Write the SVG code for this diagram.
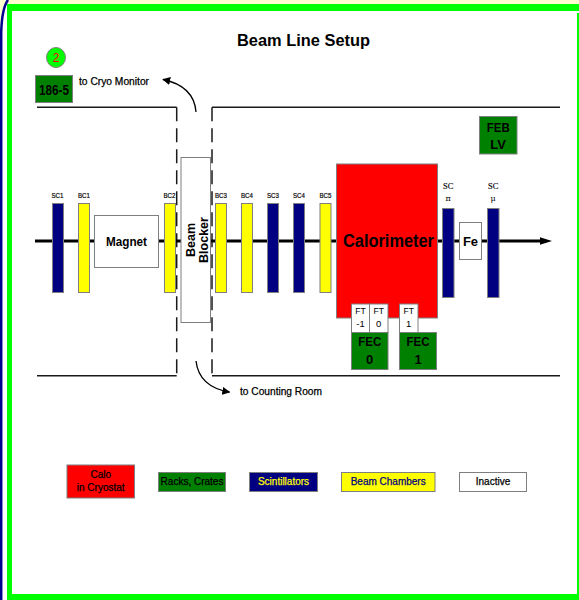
<svg xmlns="http://www.w3.org/2000/svg" width="579" height="600" viewBox="0 0 579 600">
<style>
text{font-family:"Liberation Sans",Arial,sans-serif;fill:#000;text-anchor:middle}
.b{font-weight:bold}
.lbl{font-size:7.5px;stroke:#000;stroke-width:0.2}
.ser{font-family:"Liberation Serif","Times New Roman",serif;font-size:8.5px;stroke:#000;stroke-width:0.15}
.gk{font-family:"DejaVu Serif","Liberation Serif",serif;font-size:8px}
.leg{font-size:10px;stroke-width:0.25}
.box{stroke:#7f7f7f;stroke-width:1}
.red{fill:#ff0000}.grn{fill:#008000}.navy{fill:#000080}.yel{fill:#ffff00}.wht{fill:#ffffff}
.wall{stroke:#1a1a1a;stroke-width:1.5;fill:none}
.dash{stroke:#1a1a1a;stroke-width:1.5;stroke-dasharray:14 7;fill:none}
.conn{stroke:#000;stroke-width:1.3;fill:none}
</style>
<defs>
<marker id="ah" viewBox="0 0 10 10" refX="9" refY="5" markerWidth="8" markerHeight="8" markerUnits="userSpaceOnUse" orient="auto">
<path d="M0,0 L10,5 L0,10 z" fill="#000"/>
</marker>
</defs>
<!-- frame -->
<rect x="0" y="0" width="579" height="600" fill="#ffffff"/>
<rect x="0" y="0" width="579" height="4" fill="#fffbd0"/>
<path d="M0,0 H8 Q2,8 1.5,30 V600 H0 z" fill="#fffbd0"/>
<path d="M8,0 Q2,8 1.2,32 V600" stroke="#000090" stroke-width="2.5" fill="none"/>
<rect x="7" y="4" width="572" height="7" fill="#00ff00"/>
<rect x="7" y="11" width="5" height="589" fill="#00ff00"/>
<rect x="577" y="13" width="2" height="587" fill="#00ff00"/>
<rect x="7" y="594" width="571" height="6" fill="#00ff00"/>

<text class="b" x="303.5" y="46" font-size="17" textLength="133" lengthAdjust="spacingAndGlyphs">Beam Line Setup</text>

<!-- walls -->
<g id="walls">
<path class="wall" d="M37,107.3 H176.7"/>
<path class="wall" d="M212,107.3 H560"/>
<path class="wall" d="M37,375.7 H176.7"/>
<path class="wall" d="M212,375.7 H560"/>
<path class="dash" d="M176.7,107.3 V375.7"/>
<path class="dash" d="M212,107.3 V375.7"/>
</g>

<!-- connectors -->
<g id="connectors">
<line x1="35" y1="241" x2="541" y2="241" stroke="#000" stroke-width="3"/>
<polygon points="540,237.3 552,241 540,244.7" fill="#000"/>
<path class="conn" d="M196,112 Q194,86 163,79.5" marker-end="url(#ah)"/>
<path class="conn" d="M196,361 Q199,387 229.5,392" marker-end="url(#ah)"/>
</g>

<g id="marker2">
<ellipse cx="56" cy="57.5" rx="9.5" ry="10" fill="#00ff00" stroke="#7f7f7f"/>
<text x="56" y="62" font-size="12" style="fill:#ff0000">2</text>
</g>
<g id="n186-5">
<rect class="box grn" x="35.5" y="75.5" width="37" height="27"/>
<text class="b" x="54" y="95" font-size="15" textLength="30" lengthAdjust="spacingAndGlyphs">186-5</text>
</g>
<text class="leg" x="79" y="85" style="text-anchor:start;stroke:#000" textLength="70" lengthAdjust="spacingAndGlyphs">to Cryo Monitor</text>
<text class="leg" x="240" y="394.5" style="text-anchor:start;stroke:#000" textLength="82" lengthAdjust="spacingAndGlyphs">to Counting Room</text>

<g id="sc1"><rect class="box navy" x="52.5" y="203.5" width="11" height="89"/><text class="lbl" x="57.5" y="198" textLength="12" lengthAdjust="spacingAndGlyphs">SC1</text></g>
<g id="bc1"><rect class="box yel" x="78.5" y="203.5" width="11" height="89"/><text class="lbl" x="84" y="198" textLength="12" lengthAdjust="spacingAndGlyphs">BC1</text></g>
<g id="magnet"><rect class="box wht" x="94.5" y="215.5" width="64" height="52"/><text class="b" x="126.5" y="246" font-size="13" textLength="41" lengthAdjust="spacingAndGlyphs">Magnet</text></g>
<g id="bc2"><rect class="box yel" x="164.5" y="203.5" width="11" height="89"/><text class="lbl" x="169.5" y="198" textLength="12" lengthAdjust="spacingAndGlyphs">BC2</text></g>
<g id="beamblocker">
<rect class="box wht" x="181" y="157.5" width="29.5" height="165"/>
<text class="b" transform="translate(195,240) rotate(-90)" font-size="12.5">Beam</text>
<text class="b" transform="translate(207.5,240) rotate(-90)" font-size="12.5">Blocker</text>
</g>
<g id="bc3"><rect class="box yel" x="215.5" y="203.5" width="11" height="89"/><text class="lbl" x="221" y="198" textLength="12" lengthAdjust="spacingAndGlyphs">BC3</text></g>
<g id="bc4"><rect class="box yel" x="241.5" y="203.5" width="11" height="89"/><text class="lbl" x="247" y="198" textLength="12" lengthAdjust="spacingAndGlyphs">BC4</text></g>
<g id="sc3"><rect class="box navy" x="267.5" y="203.5" width="11" height="89"/><text class="lbl" x="273" y="198" textLength="12" lengthAdjust="spacingAndGlyphs">SC3</text></g>
<g id="sc4"><rect class="box navy" x="293.5" y="203.5" width="11" height="89"/><text class="lbl" x="299" y="198" textLength="12" lengthAdjust="spacingAndGlyphs">SC4</text></g>
<g id="bc5"><rect class="box yel" x="320" y="203.5" width="11" height="89"/><text class="lbl" x="325.5" y="198" textLength="12" lengthAdjust="spacingAndGlyphs">BC5</text></g>
<g id="calorimeter"><rect class="box red" x="336.5" y="164" width="101" height="154"/><text class="b" x="388.5" y="247" font-size="18" textLength="91" lengthAdjust="spacingAndGlyphs">Calorimeter</text></g>
<g id="ft-1"><rect class="box wht" x="351.5" y="304" width="18" height="28.5"/><text x="360.5" y="314" font-size="9.5" textLength="10.5" lengthAdjust="spacingAndGlyphs">FT</text><text x="360.5" y="327" font-size="9.5">-1</text></g>
<g id="ft0"><rect class="box wht" x="369.5" y="304" width="18.5" height="28.5"/><text x="378.7" y="314" font-size="9.5" textLength="10.5" lengthAdjust="spacingAndGlyphs">FT</text><text x="378.7" y="327" font-size="9.5">0</text></g>
<g id="ft1"><rect class="box wht" x="399.5" y="304" width="18.5" height="28.5"/><text x="408.7" y="314" font-size="9.5" textLength="10.5" lengthAdjust="spacingAndGlyphs">FT</text><text x="408.7" y="327" font-size="9.5">1</text></g>
<g id="fec0"><rect class="box grn" x="351.5" y="332.5" width="36.5" height="37"/><text class="b" x="369.7" y="346" font-size="13" textLength="23" lengthAdjust="spacingAndGlyphs">FEC</text><text class="b" x="369.7" y="363.5" font-size="13">0</text></g>
<g id="fec1"><rect class="box grn" x="399.5" y="332.5" width="37" height="37"/><text class="b" x="418" y="346" font-size="13" textLength="23" lengthAdjust="spacingAndGlyphs">FEC</text><text class="b" x="418" y="363.5" font-size="13">1</text></g>
<g id="scpi"><rect class="box navy" x="442.5" y="208.5" width="11.5" height="89"/><text class="ser" x="448.2" y="189.3">SC</text><text class="gk" x="448.2" y="200.5">π</text></g>
<g id="fe"><rect class="box wht" x="459.5" y="222.5" width="22" height="37"/><text class="b" x="470.5" y="246" font-size="13">Fe</text></g>
<g id="scmu"><rect class="box navy" x="487.5" y="208.5" width="11.5" height="89"/><text class="ser" x="493.2" y="189.3">SC</text><text class="gk" x="493.2" y="200.5">μ</text></g>
<g id="feblv"><rect class="box grn" x="479.5" y="116.5" width="37.5" height="37.5"/><text class="b" x="498.2" y="132" font-size="13" textLength="23" lengthAdjust="spacingAndGlyphs">FEB</text><text class="b" x="498.2" y="148.5" font-size="13">LV</text></g>

<!-- legend -->
<g id="legend">
<g id="leg-calo"><rect class="box red" x="67" y="465" width="67.5" height="33"/><text class="leg" x="100.7" y="477.7" style="stroke:#000">Calo</text><text class="leg" x="100.7" y="490.5" style="stroke:#000">in Cryostat</text></g>
<g id="leg-racks"><rect class="box grn" x="158.5" y="472.5" width="67" height="19"/><text class="leg" x="192" y="484.5" style="stroke:#000">Racks, Crates</text></g>
<g id="leg-scint"><rect class="box navy" x="249.5" y="472.5" width="68" height="19"/><text class="leg" x="283.5" y="484.5" style="fill:#ffff00;stroke:#ffff00">Scintillators</text></g>
<g id="leg-bc"><rect class="box yel" x="341.5" y="472.5" width="93.5" height="19"/><text class="leg" x="388.2" y="484.5" style="fill:#000080;stroke:#000080">Beam Chambers</text></g>
<g id="leg-inactive"><rect class="box wht" x="459.5" y="472.5" width="67" height="19"/><text class="leg" x="493" y="484.5" style="stroke:#000">Inactive</text></g>
</g>
</svg>
